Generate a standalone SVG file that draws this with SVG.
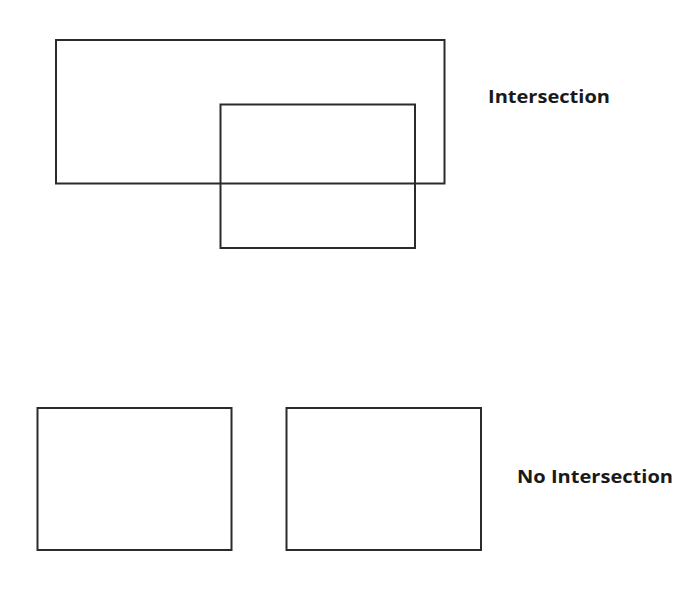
<svg xmlns="http://www.w3.org/2000/svg" width="694" height="604" viewBox="0 0 694 604">
<style>
.box{fill:none;stroke:#2b2b2b;stroke-width:2}
.lbl{font-family:"Open Sans","Liberation Sans",sans-serif;font-weight:bold;font-size:17px;fill:#1a1a1a}
</style>
<rect width="694" height="604" fill="#ffffff"/>
<g id="rect-a"><rect class="box" x="56" y="40" width="388.5" height="143.5"/></g>
<g id="rect-b"><rect class="box" x="220.5" y="104.5" width="194.5" height="143.5"/></g>
<g id="label-intersection"><text class="lbl" x="488" y="102.5" textLength="122" lengthAdjust="spacingAndGlyphs">Intersection</text></g>
<g id="rect-c"><rect class="box" x="37.5" y="408" width="194" height="142"/></g>
<g id="rect-d"><rect class="box" x="286.5" y="408" width="194.5" height="142"/></g>
<g id="label-no-intersection"><text class="lbl" x="517" y="482.5" textLength="156" lengthAdjust="spacingAndGlyphs">No Intersection</text></g>
<g id="connectors"/>
</svg>
